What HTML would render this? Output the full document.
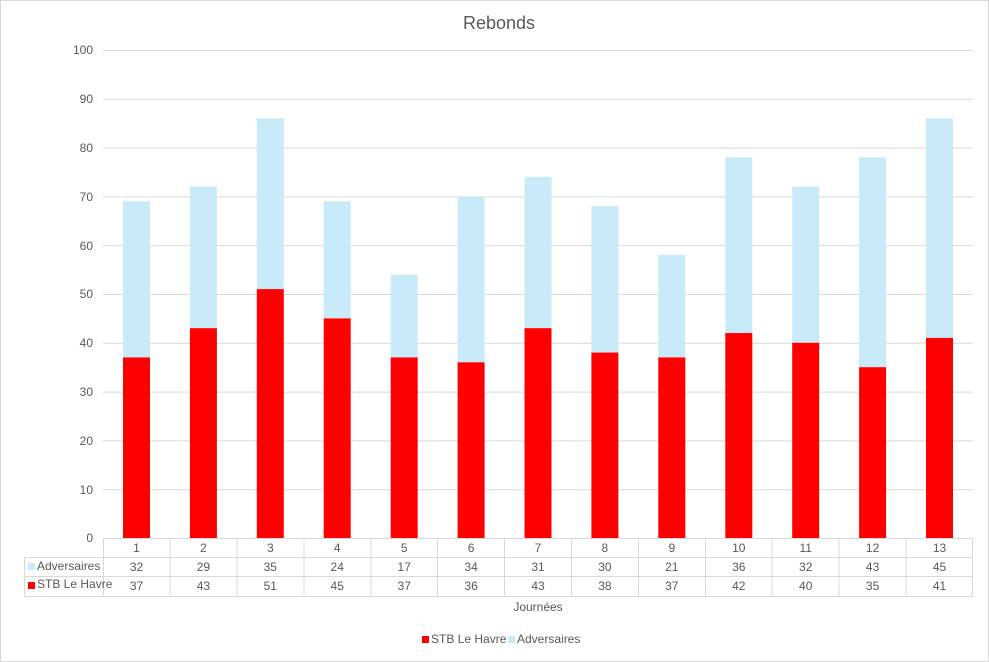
<!DOCTYPE html>
<html><head><meta charset="utf-8"><style>
body{margin:0;background:#fff}
svg{display:block;font-family:"Liberation Sans",Arial,sans-serif}
</style></head><body>
<svg width="989" height="662" viewBox="0 0 989 662">
<rect x="0.5" y="0.5" width="988" height="661" fill="#fff" stroke="#d9d9d9"/>
<text x="499" y="29" font-size="18" fill="#595959" text-anchor="middle">Rebonds</text>
<g stroke="#d9d9d9" stroke-width="1">
<line x1="103" x2="973" y1="50.5" y2="50.5"/><line x1="103" x2="973" y1="99.3" y2="99.3"/>
<line x1="103" x2="973" y1="148.1" y2="148.1"/><line x1="103" x2="973" y1="196.9" y2="196.9"/>
<line x1="103" x2="973" y1="245.7" y2="245.7"/><line x1="103" x2="973" y1="294.5" y2="294.5"/>
<line x1="103" x2="973" y1="343.3" y2="343.3"/><line x1="103" x2="973" y1="392.1" y2="392.1"/>
<line x1="103" x2="973" y1="440.9" y2="440.9"/><line x1="103" x2="973" y1="489.7" y2="489.7"/>
</g>
<g font-size="12" fill="#595959" text-anchor="end">
<text x="93" y="54">100</text><text x="93" y="103">90</text><text x="93" y="152">80</text>
<text x="93" y="201">70</text><text x="93" y="250">60</text><text x="93" y="298">50</text>
<text x="93" y="347">40</text><text x="93" y="396">30</text><text x="93" y="445">20</text>
<text x="93" y="494">10</text><text x="93" y="542">0</text>
</g>
<g transform="translate(0,538) scale(1,-4.88)">
<g fill="#c9eaf9">
<rect x="123" y="37" width="27" height="32"/><rect x="189.9" y="43" width="27" height="29"/>
<rect x="256.8" y="51" width="27" height="35"/><rect x="323.7" y="45" width="27" height="24"/>
<rect x="390.7" y="37" width="27" height="17"/><rect x="457.6" y="36" width="27" height="34"/>
<rect x="524.5" y="43" width="27" height="31"/><rect x="591.4" y="38" width="27" height="30"/>
<rect x="658.3" y="37" width="27" height="21"/><rect x="725.3" y="42" width="27" height="36"/>
<rect x="792.2" y="40" width="27" height="32"/><rect x="859.1" y="35" width="27" height="43"/>
<rect x="926" y="41" width="27" height="45"/>
</g>
<g fill="#ff0000">
<rect x="123" y="0" width="27" height="37"/><rect x="189.9" y="0" width="27" height="43"/>
<rect x="256.8" y="0" width="27" height="51"/><rect x="323.7" y="0" width="27" height="45"/>
<rect x="390.7" y="0" width="27" height="37"/><rect x="457.6" y="0" width="27" height="36"/>
<rect x="524.5" y="0" width="27" height="43"/><rect x="591.4" y="0" width="27" height="38"/>
<rect x="658.3" y="0" width="27" height="37"/><rect x="725.3" y="0" width="27" height="42"/>
<rect x="792.2" y="0" width="27" height="40"/><rect x="859.1" y="0" width="27" height="35"/>
<rect x="926" y="0" width="27" height="41"/>
</g>
</g>
<g stroke="#d9d9d9" stroke-width="1" fill="none">
<line x1="103" x2="973" y1="538.5" y2="538.5"/>
<line x1="24" x2="973" y1="557.5" y2="557.5"/>
<line x1="24" x2="973" y1="576.5" y2="576.5"/>
<line x1="24" x2="973" y1="596.5" y2="596.5"/>
<line x1="24.5" x2="24.5" y1="557" y2="597"/>
<line x1="103.5" x2="103.5" y1="538" y2="597"/><line x1="170" x2="170" y1="538" y2="597"/>
<line x1="237" x2="237" y1="538" y2="597"/><line x1="304" x2="304" y1="538" y2="597"/>
<line x1="371" x2="371" y1="538" y2="597"/><line x1="437.5" x2="437.5" y1="538" y2="597"/>
<line x1="504.5" x2="504.5" y1="538" y2="597"/><line x1="571.5" x2="571.5" y1="538" y2="597"/>
<line x1="638.5" x2="638.5" y1="538" y2="597"/><line x1="705.5" x2="705.5" y1="538" y2="597"/>
<line x1="772" x2="772" y1="538" y2="597"/><line x1="839" x2="839" y1="538" y2="597"/>
<line x1="906" x2="906" y1="538" y2="597"/><line x1="972.5" x2="972.5" y1="538" y2="597"/>
</g>
<g font-size="12" fill="#595959" text-anchor="middle">
<text x="136.5" y="552">1</text><text x="203.4" y="552">2</text><text x="270.3" y="552">3</text>
<text x="337.2" y="552">4</text><text x="404.2" y="552">5</text><text x="471.1" y="552">6</text>
<text x="538" y="552">7</text><text x="604.9" y="552">8</text><text x="671.8" y="552">9</text>
<text x="738.8" y="552">10</text><text x="805.7" y="552">11</text><text x="872.6" y="552">12</text>
<text x="939.5" y="552">13</text>
<text x="136.5" y="571">32</text><text x="203.4" y="571">29</text><text x="270.3" y="571">35</text>
<text x="337.2" y="571">24</text><text x="404.2" y="571">17</text><text x="471.1" y="571">34</text>
<text x="538" y="571">31</text><text x="604.9" y="571">30</text><text x="671.8" y="571">21</text>
<text x="738.8" y="571">36</text><text x="805.7" y="571">32</text><text x="872.6" y="571">43</text>
<text x="939.5" y="571">45</text>
<text x="136.5" y="590">37</text><text x="203.4" y="590">43</text><text x="270.3" y="590">51</text>
<text x="337.2" y="590">45</text><text x="404.2" y="590">37</text><text x="471.1" y="590">36</text>
<text x="538" y="590">43</text><text x="604.9" y="590">38</text><text x="671.8" y="590">37</text>
<text x="738.8" y="590">42</text><text x="805.7" y="590">40</text><text x="872.6" y="590">35</text>
<text x="939.5" y="590">41</text>
<text x="538" y="611">Journées</text>
</g>
<rect x="28" y="563" width="7" height="7" fill="#c9eaf9"/>
<text x="37" y="570" font-size="12" fill="#595959">Adversaires</text>
<rect x="28" y="582" width="7" height="7" fill="#ff0000"/>
<text x="37" y="588" font-size="12" fill="#595959">STB Le Havre</text>
<rect x="422" y="636" width="7" height="7" fill="#ff0000"/>
<text x="431" y="643" font-size="12" fill="#595959">STB Le Havre</text>
<rect x="508" y="636" width="7" height="7" fill="#c9eaf9"/>
<text x="517" y="643" font-size="12" fill="#595959">Adversaires</text>
</svg>
</body></html>
